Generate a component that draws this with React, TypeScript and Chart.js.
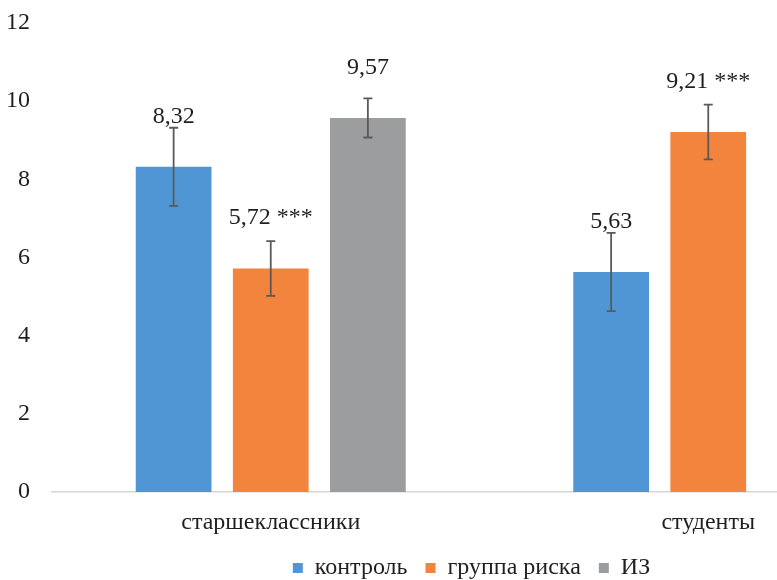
import React, { useEffect, useRef } from "react";
import { Chart, registerables } from "chart.js";

Chart.register(...registerables);

const categories = ["старшеклассники", "студенты"];
const seriesNames = ["контроль", "группа риска", "ИЗ"];
const controlValues = [8.32, 5.63];
const riskValues = [5.72, 9.21];
const izValues: (number | null)[] = [9.57, null];
const controlErrors = [1.0, 1.0];
const riskErrors = [0.7, 0.7];
const izErrors: (number | null)[] = [0.5, null];
const controlLabels = ["8,32", "5,63"];
const riskLabels = ["5,72 ***", "9,21 ***"];
const izLabels: (string | null)[] = ["9,57", null];
const yTicks = [0, 2, 4, 6, 8, 10, 12];

const FONT = "'Liberation Serif', 'Times New Roman', serif";
const TEXT = "#1f1f1f";

const errorsBySeries = [controlErrors, riskErrors, izErrors];
const labelsBySeries = [controlLabels, riskLabels, izLabels];

const overlayPlugin = {
  id: "errLabels",
  afterLayout(chart: any) {
    const lg = chart.legend;
    if (lg) {
      lg.left += 8;
      lg.right += 8;
    }
  },
  afterDatasetsDraw(chart: any) {
    const ctx = chart.ctx;
    const yScale = chart.scales.y;
    chart.data.datasets.forEach((ds: any, di: number) => {
      const meta = chart.getDatasetMeta(di);
      meta.data.forEach((bar: any, i: number) => {
        const v = ds.data[i];
        if (v === null || v === undefined) return;
        const err = errorsBySeries[di][i];
        if (err != null) {
          const yt = yScale.getPixelForValue(v + err);
          const yb = yScale.getPixelForValue(v - err);
          ctx.save();
          ctx.strokeStyle = "#5a5a5a";
          ctx.lineWidth = 1.8;
          ctx.beginPath();
          ctx.moveTo(bar.x, yt);
          ctx.lineTo(bar.x, yb);
          ctx.moveTo(bar.x - 4.5, yt);
          ctx.lineTo(bar.x + 4.5, yt);
          ctx.moveTo(bar.x - 4.5, yb);
          ctx.lineTo(bar.x + 4.5, yb);
          ctx.stroke();
          ctx.restore();
        }
        const lbl = labelsBySeries[di][i];
        if (lbl) {
          ctx.save();
          ctx.fillStyle = TEXT;
          ctx.font = `24px ${FONT}`;
          ctx.textAlign = "center";
          ctx.textBaseline = "alphabetic";
          ctx.fillText(lbl, bar.x, bar.y - 44);
          ctx.restore();
        }
      });
    });
  },
};

export default function App() {
  const ref = useRef<HTMLCanvasElement | null>(null);
  useEffect(() => {
    if (!ref.current) return;
    const chart = new Chart(ref.current, {
      type: "bar",
      data: {
        labels: categories,
        datasets: [
          { label: seriesNames[0], data: controlValues, backgroundColor: "#5096d5" },
          { label: seriesNames[1], data: riskValues, backgroundColor: "#f2843e" },
          { label: seriesNames[2], data: izValues, backgroundColor: "#9b9d9e" },
        ],
      },
      options: {
        responsive: false,
        maintainAspectRatio: false,
        animation: false,
        layout: { padding: { top: 23, right: 23, left: 0, bottom: 0 } },
        datasets: { bar: { categoryPercentage: 0.666, barPercentage: 0.78 } },
        scales: {
          x: {
            grid: { display: false, drawTicks: false },
            border: { display: true, color: "#d6d6d6", width: 1.5 },
            ticks: { color: TEXT, font: { family: FONT, size: 24 }, padding: 16.5 },
            afterFit: (s: any) => {
              s.height = 46;
            },
          },
          y: {
            min: 0,
            max: 12,
            grid: { display: false, drawTicks: false },
            border: { display: false },
            afterBuildTicks: (s: any) => {
              s.ticks = yTicks.map((v) => ({ value: v }));
            },
            afterFit: (s: any) => {
              s.width = 52;
              s.paddingTop = 0;
              s.paddingBottom = 0;
            },
            ticks: { color: TEXT, font: { family: FONT, size: 24 }, padding: 22 },
          },
        },
        plugins: {
          legend: {
            position: "bottom",
            labels: {
              boxWidth: 10,
              boxHeight: 10,
              padding: 18,
              color: TEXT,
              font: { family: FONT, size: 24 },
            },
          },
          tooltip: { enabled: false },
        },
      },
      plugins: [overlayPlugin],
    });
    return () => chart.destroy();
  }, []);
  return (
    <div
      style={{
        position: "fixed",
        left: 0,
        top: 0,
        width: 777,
        height: 580,
        overflow: "hidden",
        background: "#fff",
      }}
    >
      <canvas ref={ref} width={950} height={590} style={{ display: "block" }} />
    </div>
  );
}
